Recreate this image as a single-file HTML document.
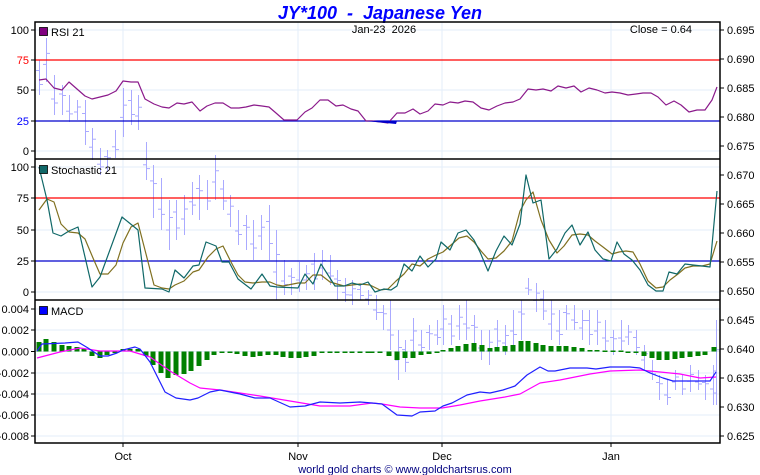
<!DOCTYPE html>
<html><head><meta charset="utf-8"><style>
html,body{margin:0;padding:0;background:#fff;width:760px;height:475px;overflow:hidden}
svg{display:block;font-family:"Liberation Sans",Arial,sans-serif}
text{white-space:pre}
</style></head><body>
<svg id="s" width="760" height="475" viewBox="0 0 760 475" xmlns="http://www.w3.org/2000/svg">
<text x="380" y="19" text-anchor="middle" font-size="18" font-weight="bold" font-style="italic" fill="#0000ff" xml:space="preserve">JY*100  -  Japanese Yen</text>
<g id="grid" stroke="#e3eefa" stroke-width="1"></g>
<g id="bars" stroke="#aaaaff" stroke-width="1"></g>
<g id="ind"></g>
<g id="frame"></g>
</svg>
<script>
const NS="http://www.w3.org/2000/svg";
function el(p,t,a,txt){const e=document.createElementNS(NS,t);for(const k in a)e.setAttribute(k,a[k]);if(txt!==undefined){e.setAttributeNS("http://www.w3.org/XML/1998/namespace","xml:space","preserve");e.textContent=txt;}p.appendChild(e);return e;}
const s=document.getElementById('s'),G=document.getElementById('grid'),B=document.getElementById('bars'),I=document.getElementById('ind'),F=document.getElementById('frame');
const L=35,R=720;
[30,60,90,121,151, 167,198,230,261,292, 309,330,351.5,373,394,415,436].forEach(y=>el(G,'line',{x1:L,x2:R,y1:y,y2:y}));
[123,298,442,611].forEach(x=>el(G,'line',{x1:x,x2:x,y1:22,y2:443}));
const bars=[[39,60,95],[46,38,82],[54,75,115],[62,85,115],[69,95,122],[77,100,120],[85,100,145],[92,128,160],[100,148,175],[107,150,172],[115,130,158],[123,88,137],[131,90,125],[138,95,130],[146,142,180],[153,165,218],[161,178,230],[169,200,250],[176,200,240],[184,195,235],[192,182,215],[199,175,220],[207,180,210],[215,155,200],[223,180,210],[230,195,227],[238,210,245],[246,215,250],[253,220,260],[261,215,250],[269,205,260],[276,230,300],[284,260,295],[291,268,295],[299,262,292],[306,265,290],[314,253,290],[322,250,280],[330,255,285],[337,270,300],[345,278,302],[352,280,305],[360,285,300],[368,290,305],[376,295,320],[383,305,330],[390,300,350],[398,330,380],[405,340,372],[413,318,355],[421,330,355],[429,325,350],[437,320,345],[443,305,345],[451,315,345],[459,305,340],[466,300,340],[474,315,350],[481,330,360],[489,330,365],[497,320,350],[505,325,355],[513,310,345],[521,300,340],[528,278,295],[536,283,312],[543,290,320],[551,300,340],[559,310,345],[566,305,330],[574,305,330],[582,310,340],[589,310,345],[597,310,345],[605,320,350],[613,330,355],[621,320,350],[628,325,345],[636,330,355],[644,345,370],[652,360,380],[659,375,400],[667,380,405],[675,370,390],[682,375,395],[690,365,392],[698,370,390],[705,375,400],[713,365,405],[716,320,405]];
bars.forEach((b,i)=>{const [x,h,l]=b;const o=h+(l-h)*(i%3==0?0.3:0.6),c=h+(l-h)*(i%2?0.35:0.7);
el(B,'line',{x1:x+.5,x2:x+.5,y1:h,y2:l});el(B,'line',{x1:x-3,x2:x+.5,y1:o,y2:o});el(B,'line',{x1:x+.5,x2:x+4,y1:c,y2:c});});
[[60,'#ff0000'],[121,'#0000cc'],[198,'#ff0000'],[261,'#0000cc']].forEach(a=>el(I,'line',{x1:L,x2:R,y1:a[0],y2:a[0],stroke:a[1],'stroke-width':1.2}));
const hist=[[39,342],[46,339],[54,342],[62,345],[69,346],[77,347],[84,349],[92,356],[100,358],[107,355],[115,353],[123,349],[130,349],[138,349],[146,356],[153,365],[161,373],[168,378],[176,375],[184,374],[191,371],[199,366],[207,360],[214,355],[222,353],[230,353],[237,354],[245,356],[253,357],[260,356],[268,355],[276,355],[283,357],[291,358],[299,358],[306,357],[314,356],[322,353],[330,352.5],[337,352.5],[345,352.5],[352,352.5],[360,352.5],[368,352.5],[372,352.5],[380,352.5],[389,356],[397,360],[405,358],[413,358],[421,355],[429,354],[437,352.5],[443,350],[451,348],[458,346],[466,344],[474,343],[482,345],[490,348],[497,347],[505,346],[513,345],[521,341],[528,341],[536,343],[543,345],[551,346],[559,346],[566,346],[574,347],[582,348],[590,350],[597,350],[605,350.5],[613,350.5],[621,350.5],[628,352.5],[636,352.5],[644,356],[652,358],[659,360],[667,360],[675,359],[682,358],[690,357],[698,356],[705,355],[714,347]];
hist.forEach(h=>{const z=351.5,y=Math.min(z,h[1]),hh=Math.max(1.5,Math.abs(h[1]-z));el(I,'rect',{x:h[0]-2.5,y:y,width:5,height:hh,fill:'#008000'});});
function pl(pts,col,w){el(I,'polyline',{points:pts.map(p=>p.join(',')).join(' '),fill:'none',stroke:col,'stroke-width':w||1.2,'stroke-linejoin':'round'});}
pl([[39,80],[46,79],[54,88],[62,90],[69,82],[77,89],[85,96],[92,99],[100,97],[108,95],[116,91],[123,81],[131,82],[138,82],[145,99],[154,104],[162,107],[169,108],[177,103],[184,104],[192,102],[200,111],[207,106],[215,103],[223,103],[231,108],[239,108],[246,107],[254,105],[262,106],[269,107],[276,113],[284,120],[290,120],[297,120],[305,112],[312,108],[320,100],[328,100],[336,106],[343,105],[351,109],[358,111],[366,121],[372,121],[381,122],[388,123],[397,113],[405,113],[413,109],[420,114],[428,111],[435,104],[443,105],[450,102],[458,103],[465,101],[473,102],[481,108],[489,110],[497,106],[505,103],[513,102],[520,99],[528,89],[536,90],[543,89],[551,91],[558,86],[566,88],[574,86],[581,92],[589,88],[597,90],[605,93],[612,92],[620,93],[628,95],[636,94],[643,93],[651,93],[658,97],[666,105],[674,101],[681,105],[689,112],[697,110],[705,110],[712,100],[717,87]],'#8b1a8b',1.2);
el(I,'polygon',{points:'366,121 397,121 396,124 381,122.5',fill:'#0000cc'});
pl([[39,210],[47,199],[54,202],[61,224],[69,232],[78,233],[85,239],[93,258],[100,274],[108,274],[116,265],[123,243],[131,227],[138,223],[146,254],[154,285],[162,288],[169,289],[175,285],[184,281],[193,272],[199,270],[208,257],[216,249],[223,246],[231,262],[238,275],[245,282],[253,283],[262,282],[270,282],[277,285],[283,286],[298,283],[305,283],[313,275],[321,275],[330,282],[344,286],[360,284],[370,285],[380,290],[388,289],[396,281],[404,274],[412,264],[420,266],[428,259],[436,255],[443,252],[451,245],[459,238],[467,236],[474,242],[481,251],[488,259],[496,258],[504,251],[512,241],[520,211],[526,200],[533,192],[541,220],[549,240],[557,253],[564,246],[572,235],[580,234],[588,235],[595,241],[603,247],[612,254],[619,252],[626,251],[633,252],[640,264],[648,281],[656,288],[663,287],[670,280],[678,274],[685,268],[693,266],[702,266],[710,264],[717,241]],'#807020',1.2);
pl([[39,167],[47,200],[53,233],[61,236],[69,231],[78,227],[92,287],[100,277],[122,217],[138,230],[145,288],[162,289],[169,292],[175,270],[184,278],[193,266],[199,265],[206,242],[216,246],[222,262],[229,262],[238,279],[251,289],[262,274],[270,286],[277,287],[298,288],[305,274],[313,284],[321,264],[335,286],[344,286],[352,283],[360,285],[368,282],[375,292],[384,289],[391,290],[397,286],[404,264],[412,271],[420,256],[428,267],[436,259],[441,242],[450,250],[458,233],[466,230],[474,240],[480,252],[488,271],[496,251],[504,236],[512,245],[520,224],[526,175],[533,203],[541,200],[549,259],[557,249],[565,233],[572,225],[580,245],[588,232],[595,250],[603,259],[611,261],[617,242],[624,254],[632,260],[640,270],[648,285],[656,291],[663,291],[669,272],[677,274],[685,264],[693,265],[702,266],[710,267],[717,191]],'#106868',1.2);
pl([[37,358],[60,352],[80,348],[100,351],[130,351],[150,357],[170,371],[190,383],[200,388],[220,390],[260,396],[290,401],[320,406],[350,406],[372,403],[382,404],[400,407],[420,408],[442,408],[460,405],[480,401],[505,397],[520,394],[540,383],[560,380],[590,374],[610,371],[640,370],[660,372],[680,374],[700,378],[716,377]],'#ff00ff',1.2);
pl([[37,351],[42,344],[65,343],[78,342],[88,348],[100,356],[108,356],[117,353],[123,350],[135,347],[140,349],[150,362],[165,392],[176,398],[190,400],[198,398],[210,392],[220,390],[240,394],[255,398],[270,398],[290,407],[305,406],[320,402],[340,403],[360,402],[372,403],[382,404],[397,415],[412,416],[420,412],[435,411],[443,406],[452,403],[467,395],[480,392],[490,393],[503,390],[515,386],[527,375],[540,367],[548,371],[555,371],[570,368],[587,368],[596,369],[610,367],[630,367],[640,368],[650,373],[663,378],[673,381],[710,381],[716,372]],'#2020ff',1.2);
el(F,'rect',{x:L,y:22,width:R-L,height:421,fill:'none',stroke:'#000','stroke-width':1.5});
[159,300].forEach(y=>el(F,'line',{x1:L,x2:R,y1:y,y2:y,stroke:'#000','stroke-width':1.5}));
const lab=[[30,'100','#000'],[60,'75','#ff0000'],[90,'50','#000'],[121,'25','#0000ff'],[151,'0','#000'],[167,'100','#000'],[198,'75','#000'],[230,'50','#000'],[261,'25','#000'],[292,'0','#000'],[309,'0.004','#000'],[330,'0.002','#000'],[351.5,'0.000','#000'],[373,'-0.002','#000'],[394,'-0.004','#000'],[415,'-0.006','#000'],[436,'-0.008','#000']];
lab.forEach(a=>{el(F,'line',{x1:L-4,x2:L,y1:a[0],y2:a[0],stroke:'#000'});el(F,'text',{x:L-6,y:a[0]+4,'text-anchor':'end','font-size':11,fill:a[2]},a[1]);});
for(let i=0;i<=14;i++){const y=30+i*29;const v=(0.695-i*0.005).toFixed(3);el(F,'line',{x1:R,x2:R+4,y1:y,y2:y,stroke:'#000'});el(F,'text',{x:R+7,y:y+4,'font-size':11,fill:'#000'},v);}
[[123,'Oct'],[298,'Nov'],[442,'Dec'],[611,'Jan']].forEach(a=>{el(F,'line',{x1:a[0],x2:a[0],y1:443,y2:447,stroke:'#000'});el(F,'text',{x:a[0],y:460,'text-anchor':'middle','font-size':11},a[1]);});
[[29,'#800080','RSI 21'],[167,'#106868','Stochastic 21'],[308,'#0000ff','MACD']].forEach(a=>{el(F,'rect',{x:39.5,y:a[0]-1.5,width:8,height:8,fill:a[1],stroke:'#000','stroke-width':.8});el(F,'text',{x:51,y:a[0]+7,'font-size':11},a[2]);});
el(F,'text',{x:384,y:33,'text-anchor':'middle','font-size':11},'Jan-23  2026');
el(F,'text',{x:692,y:33,'text-anchor':'end','font-size':11},'Close = 0.64');
el(F,'text',{x:405,y:473,'text-anchor':'middle','font-size':11,fill:'#000080'},'world gold charts \u00a9 www.goldchartsrus.com');
</script>
</body></html>
